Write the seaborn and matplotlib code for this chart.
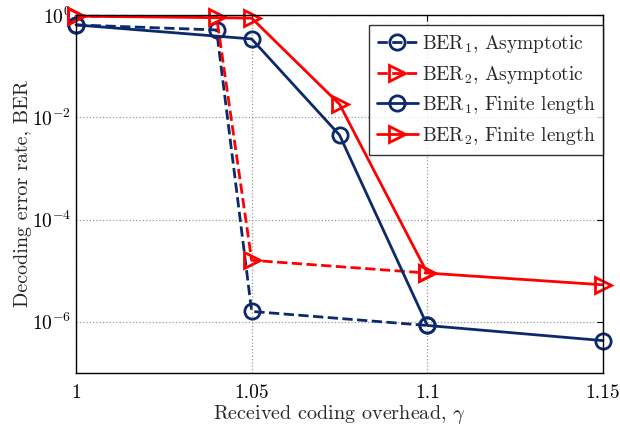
import matplotlib
matplotlib.use("Agg")
import matplotlib.pyplot as plt
import seaborn as sns
import numpy as np
import pandas as pd

# Data
x_asym1 = [1.0, 1.04, 1.05, 1.1]
ber1_asym = [0.64, 0.51, 1.6e-6, 8.5e-7]
x_asym2 = [1.0, 1.04, 1.05, 1.1]
ber2_asym = [0.95, 0.93, 1.6e-5, 9.0e-6]
x_fin = [1.0, 1.05, 1.075, 1.1, 1.15]
ber1_fin = [0.64, 0.34, 4.5e-3, 8.5e-7, 4.3e-7]
ber2_fin = [0.95, 0.87, 1.8e-2, 9.0e-6, 5.3e-6]

xticks = [1.0, 1.05, 1.1, 1.15]
xtick_labels = ["1", "1.05", "1.1", "1.15"]
yticks = [1e-6, 1e-4, 1e-2, 1e0]
ytick_labels = [r"$10^{-6}$", r"$10^{-4}$", r"$10^{-2}$", r"$10^{0}$"]

labels = [r"BER$_1$, Asymptotic", r"BER$_2$, Asymptotic",
          r"BER$_1$, Finite length", r"BER$_2$, Finite length"]

sns.set_style("white")
plt.rcParams["font.family"] = "serif"
plt.rcParams["font.serif"] = ["cmr10"]
plt.rcParams["mathtext.fontset"] = "cm"
plt.rcParams["axes.formatter.use_mathtext"] = True

navy = "#0c2a6b"
red = "#ff0000"

fig = plt.figure(figsize=(6.2, 4.3), dpi=100)
ax = fig.add_axes([76/620, 1-373/430, (603-76)/620, (373-15)/430])

common = dict(lw=2, markersize=11, markerfacecolor="none", markeredgewidth=2, clip_on=False)

sns.lineplot(x=x_asym1, y=ber1_asym, ax=ax, color=navy, marker="o", ls="--",
             markeredgecolor=navy, label=labels[0], **common)
sns.lineplot(x=x_asym2, y=ber2_asym, ax=ax, color=red, marker=">", ls="--",
             markeredgecolor=red, label=labels[1], **common)
sns.lineplot(x=x_fin, y=ber1_fin, ax=ax, color=navy, marker="o", ls="-",
             markeredgecolor=navy, label=labels[2], **common)
sns.lineplot(x=x_fin, y=ber2_fin, ax=ax, color=red, marker=">", ls="-",
             markeredgecolor=red, label=labels[3], **common)

ax.set_yscale("log")
ax.set_xlim(1.0, 1.15)
ax.set_ylim(1e-7, 1e0)
ax.set_xticks(xticks)
ax.set_xticklabels(xtick_labels)
ax.set_yticks(yticks)
ax.set_yticklabels(ytick_labels)
ax.yaxis.set_minor_locator(matplotlib.ticker.NullLocator())
ax.tick_params(direction="in", top=True, right=True, labelsize=14, length=4, width=0.8, colors="black")
ax.tick_params(axis="x", pad=8)
ax.grid(True, ls=":", color="#999999", lw=0.9)
for s in ax.spines.values():
    s.set_color("black")
    s.set_linewidth(1.0)

ax.set_xlabel(r"Received coding overhead, $\gamma$", fontsize=14.5, labelpad=1)
ax.set_ylabel("Decoding error rate, BER", fontsize=14.5, labelpad=0)

leg = ax.legend(loc="upper right", bbox_to_anchor=(1.0, 1 - 10/358), borderaxespad=0,
                fontsize=14, frameon=True, fancybox=False, edgecolor="black",
                handlelength=2.1, handletextpad=0.2, borderpad=0.4, labelspacing=0.45)
leg.get_frame().set_linewidth(1.0)

fig.savefig("out.png", dpi=100)
